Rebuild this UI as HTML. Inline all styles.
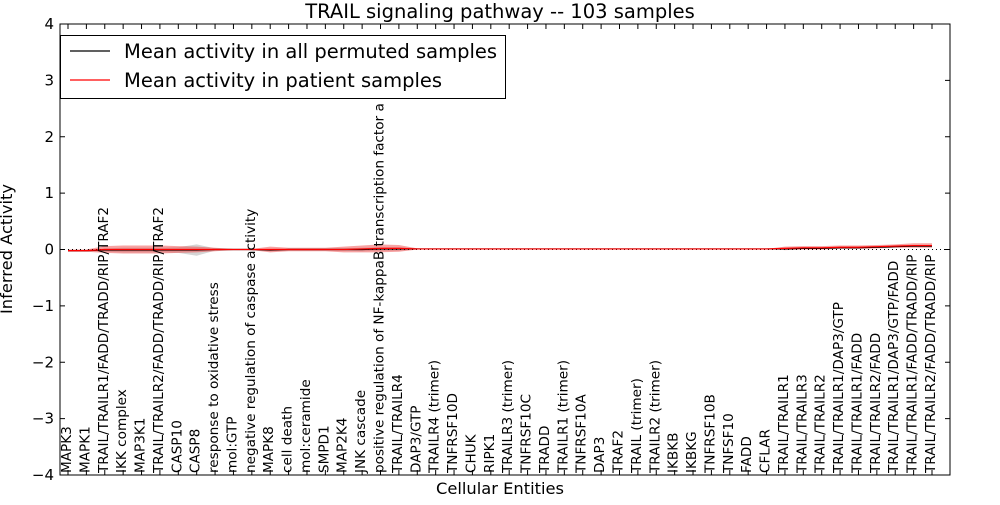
<!DOCTYPE html>
<html><head><meta charset="utf-8"><style>
body{margin:0;background:#fff}
svg text{font-family:"DejaVu Sans","Liberation Sans",sans-serif}
</style></head><body>
<svg id="chart" width="1000" height="500" xmlns="http://www.w3.org/2000/svg"></svg>
<script>
const categories=["MAPK3","MAPK1","TRAIL/TRAILR1/FADD/TRADD/RIP/TRAF2","IKK complex","MAP3K1","TRAIL/TRAILR2/FADD/TRADD/RIP/TRAF2","CASP10","CASP8","response to oxidative stress","mol:GTP","negative regulation of caspase activity","MAPK8","cell death","mol:ceramide","SMPD1","MAP2K4","JNK cascade","positive regulation of NF-kappaB transcription factor a","TRAIL/TRAILR4","DAP3/GTP","TRAILR4 (trimer)","TNFRSF10D","CHUK","RIPK1","TRAILR3 (trimer)","TNFRSF10C","TRADD","TRAILR1 (trimer)","TNFRSF10A","DAP3","TRAF2","TRAIL (trimer)","TRAILR2 (trimer)","IKBKB","IKBKG","TNFRSF10B","TNFSF10","FADD","CFLAR","TRAIL/TRAILR1","TRAIL/TRAILR3","TRAIL/TRAILR2","TRAIL/TRAILR1/DAP3/GTP","TRAIL/TRAILR1/FADD","TRAIL/TRAILR2/FADD","TRAIL/TRAILR1/DAP3/GTP/FADD","TRAIL/TRAILR1/FADD/TRADD/RIP","TRAIL/TRAILR2/FADD/TRADD/RIP"];
const patientMean=[-0.02,-0.02,0.0,0.0,0.0,0.0,0.0,0.0,0.0,0.0,0.0,0.0,0.0,0.0,0.0,0.0,0.01,0.02,0.02,0.01,0.01,0.01,0.01,0.01,0.01,0.01,0.01,0.01,0.01,0.01,0.01,0.01,0.01,0.01,0.01,0.01,0.01,0.01,0.01,0.02,0.03,0.03,0.04,0.04,0.05,0.06,0.07,0.07];
const patientSpread=[0.02,0.02,0.06,0.07,0.07,0.07,0.06,0.05,0.03,0.01,0.01,0.05,0.03,0.03,0.03,0.05,0.06,0.07,0.06,0.01,0.0,0.0,0.0,0.0,0.0,0.0,0.0,0.0,0.0,0.0,0.0,0.0,0.0,0.0,0.0,0.0,0.0,0.0,0.0,0.03,0.03,0.03,0.03,0.03,0.03,0.03,0.04,0.04];
const permMean=[-0.02,-0.02,-0.01,-0.01,-0.01,-0.01,-0.01,-0.01,0,0,0,-0.01,0,0,0,0,0,0.01,0.01,0.01,0.01,0.01,0.01,0.01,0.01,0.01,0.01,0.01,0.01,0.01,0.01,0.01,0.01,0.01,0.01,0.01,0.01,0.01,0.01,0.01,0.02,0.02,0.03,0.03,0.04,0.05,0.06,0.06];
const permSpread=[0.01,0.01,0.03,0.04,0.04,0.04,0.05,0.1,0.02,0.01,0.01,0.02,0.02,0.02,0.02,0.02,0.03,0.03,0.03,0.01,0,0,0,0,0,0,0,0,0,0,0,0,0,0,0,0,0,0,0,0.01,0.01,0.01,0.01,0.01,0.01,0.01,0.01,0.01];
const yTicks=[-4,-3,-2,-1,0,1,2,3,4];
const NS="http://www.w3.org/2000/svg";
const svg=document.getElementById('chart');
const L=60,R=950,T=24,B=475;
const x=i=>68+i*(932-68)/(categories.length-1);
const y=v=>T+(4-v)/8*(B-T);
function el(tag,attrs,parent){const e=document.createElementNS(NS,tag);for(const k in attrs)e.setAttribute(k,attrs[k]);(parent||svg).appendChild(e);return e;}
function band(mean,spr,fill,op,name){let d="";mean.forEach((m,i)=>{d+=(i?"L":"M")+x(i)+","+y(m+spr[i]);});for(let i=mean.length-1;i>=0;i--)d+="L"+x(i)+","+y(mean[i]-spr[i]);d+="Z";const p=el('path',{d:d,fill:fill,'fill-opacity':op,stroke:'none'});

}
band(permMean,permSpread,'#888',0.35,'permuted-band');
band(patientMean,patientSpread,'#e33',0.45,'patient-band');
const z=el('line',{x1:L,x2:R,y1:y(0),y2:y(0),stroke:'#000','stroke-dasharray':'1,3','stroke-width':1});


function line(vals,color,name){const pts=vals.map((v,i)=>x(i)+","+y(v)).join(" ");const p=el('polyline',{points:pts,fill:'none',stroke:color,'stroke-width':1.2});

}
line(permMean,'#000','permuted-mean-line');
line(patientMean,'#f00','patient-mean-line');
const fr=el('rect',{x:L,y:T,width:R-L,height:B-T,fill:'none',stroke:'#000','stroke-width':1});


yTicks.forEach(t=>{el('line',{x1:L,x2:L+5,y1:y(t),y2:y(t),stroke:'#000'});el('line',{x1:R-5,x2:R,y1:y(t),y2:y(t),stroke:'#000'});
const tx=el('text',{x:L-6,y:y(t)+5,'text-anchor':'end','font-size':15});tx.textContent=(t<0?"\u2212"+(-t):t);

});
categories.forEach((c,i)=>{el('line',{x1:x(i),x2:x(i),y1:B,y2:B-5,stroke:'#000'});el('line',{x1:x(i),x2:x(i),y1:T,y2:T+5,stroke:'#000'});
const tx=el('text',{x:0,y:0,transform:`translate(${x(i)+3},${B-2}) rotate(-90)`,'font-size':13.6});tx.textContent=c;

});
const ti=el('text',{x:500,y:18,'text-anchor':'middle','font-size':19.5});ti.textContent="TRAIL signaling pathway -- 103 samples";


const xl=el('text',{x:500,y:494,'text-anchor':'middle','font-size':16.3});xl.textContent="Cellular Entities";


const yl=el('text',{x:0,y:0,transform:'translate(12,249) rotate(-90)','text-anchor':'middle','font-size':16.3});yl.textContent="Inferred Activity";


const lg=el('g',{});


el('rect',{x:60.5,y:35.5,width:445,height:63,fill:'#fff',stroke:'#000'},lg);
[["Mean activity in all permuted samples","#000",51],["Mean activity in patient samples","#f00",80]].forEach(([t,c,yy])=>{
el('line',{x1:70,x2:110,y1:yy,y2:yy,stroke:c,'stroke-width':1.2},lg);
const tx=el('text',{x:124,y:yy+7,'font-size':19.5},lg);tx.textContent=t;

});
</script>
</body></html>
